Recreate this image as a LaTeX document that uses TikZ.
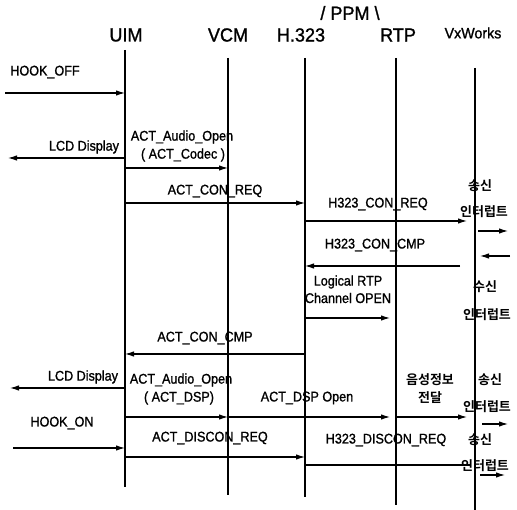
\documentclass[tikz,border=0pt]{standalone}
\usepackage{fontspec}
\setmainfont{Liberation Sans}[FakeStretch=0.9,RawFeature={embolden=1.2}]
\newfontfamily\hdfont{Liberation Sans}[FakeStretch=0.95,RawFeature={embolden=1.2}]
\newfontfamily\kr{Noto Sans CJK KR Bold}
\usetikzlibrary{arrows.meta}

\begin{document}
\begin{tikzpicture}[x=1pt,y=-1pt,
  life/.style={line width=1.4pt},
  msg/.style={line width=1.1pt,-{Latex[length=9pt,width=5.5pt]}},
  lbl/.style={font=\fontsize{14}{15}\selectfont,inner sep=0pt},
  hd/.style={font=\hdfont\fontsize{19}{20}\selectfont,inner sep=0pt},
  ko/.style={font=\kr\fontsize{13}{14}\selectfont,inner sep=0pt}]
  \useasboundingbox (0,0) rectangle (517,510);
  % heads
  \node[hd] (ppm) at (350,13) {/ PPM \textbackslash};
  \node[hd] (uimH) at (126,35) {UIM};
  \node[hd] (vcmH) at (228,35) {VCM};
  \node[hd] (h323H) at (301,35) {H.323};
  \node[hd] (rtpH) at (398,35) {RTP};
  \node[hd,font=\hdfont\fontsize{15}{16}\selectfont] (vxH) at (473,33) {VxWorks};
  % life lines
  \coordinate (uim) at (125,50);  \coordinate (uimB) at (125,487);
  \coordinate (vcm) at (228,58);  \coordinate (vcmB) at (228,495);
  \coordinate (h323) at (305,58); \coordinate (h323B) at (305,497);
  \coordinate (rtp) at (396,58);  \coordinate (rtpB) at (396,505);
  \coordinate (vx) at (475,68);   \coordinate (vxB) at (475,510);
  \foreach \l in {uim,vcm,h323,rtp,vx}
    \draw[life] (\l) -- (\l B);
  % free ends
  \coordinate (hookoff) at (5,93);
  \coordinate (lcdA) at (8,158);
  \coordinate (conreq) at (467,221);
  \coordinate (txA) at (478,231); \coordinate (txA2) at (508,231);
  \coordinate (rxA) at (510,256); \coordinate (rxA2) at (480,256);
  \coordinate (concmp) at (460,266);
  \coordinate (logical) at (390,318);
  \coordinate (lcdB) at (10,388);
  \coordinate (dspopen) at (390,417);
  \coordinate (voice) at (467,417);
  \coordinate (txB) at (482,424); \coordinate (txB2) at (508,424);
  \coordinate (hookon) at (13,448);
  \coordinate (discon) at (470,465);
  \coordinate (txC) at (480,475); \coordinate (txC2) at (505,475);
  % messages
  \draw[msg] (hookoff) -- (uim |- hookoff);
  \draw[msg] (uim |- lcdA) -- (lcdA);
  \draw[msg] (uim |- 0,168) -- (vcm |- 0,168);
  \draw[msg] (uim |- 0,203) -- (h323 |- 0,203);
  \draw[msg] (h323 |- conreq) -- (conreq);
  \draw[msg] (txA) -- (txA2);
  \draw[msg] (rxA) -- (rxA2);
  \draw[msg] (concmp) -- (h323 |- concmp);
  \draw[msg] (h323 |- logical) -- (logical);
  \draw[msg] (h323 |- 0,354) -- (uim |- 0,354);
  \draw[msg] (uim |- lcdB) -- (lcdB);
  \draw[msg] (uim |- dspopen) -- (vcm |- dspopen);
  \draw[msg] (vcm |- dspopen) -- (dspopen);
  \draw[msg] (rtp |- voice) -- (voice);
  \draw[msg] (txB) -- (txB2);
  \draw[msg] (hookon) -- (uim |- hookon);
  \draw[msg] (uim |- 0,457) -- (h323 |- 0,457);
  \draw[line width=1.1pt] (h323 |- discon) -- (discon);
  \draw[msg] (txC) -- (txC2);
  % labels
  \node[lbl] (hookoffL) at (45,72) {HOOK\_OFF};
  \node[lbl] (lcdAL) at (84,147) {LCD Display};
  \node[lbl] (audioA) at (182,137) {ACT\_Audio\_Open};
  \node[lbl] (codec) at (183,155) {( ACT\_Codec )};
  \node[lbl] (conreqL) at (215,191) {ACT\_CON\_REQ};
  \node[lbl] (hconreqL) at (378,204) {H323\_CON\_REQ};
  \node[ko] (txA1) at (480,186) {송신};
  \node[ko] (txA3) at (484,212) {인터럽트};
  \node[lbl] (hconcmpL) at (375,245) {H323\_CON\_CMP};
  \node[lbl] (logicalL) at (348,282) {Logical RTP};
  \node[lbl] (channelL) at (348,298) {Channel OPEN};
  \node[ko] (rx1) at (485,287) {수신};
  \node[ko] (rx2) at (487,315) {인터럽트};
  \node[lbl] (concmpL) at (205,338) {ACT\_CON\_CMP};
  \node[lbl] (lcdBL) at (83,377) {LCD Display};
  \node[lbl] (audioB) at (181,380) {ACT\_Audio\_Open};
  \node[lbl] (dsp) at (179,398) {( ACT\_DSP)};
  \node[lbl] (dspopenL) at (307,398) {ACT\_DSP Open};
  \node[ko] (voice1) at (430,380) {음성정보};
  \node[ko] (voice2) at (430,398) {전달};
  \node[ko] (txB1) at (490,380) {송신};
  \node[ko] (txB3) at (487,407) {인터럽트};
  \node[lbl] (hookonL) at (62,423) {HOOK\_ON};
  \node[lbl] (disconL) at (210,438) {ACT\_DISCON\_REQ};
  \node[lbl] (hdisconL) at (386,440) {H323\_DISCON\_REQ};
  \node[ko] (txC1) at (480,440) {송신};
  \node[ko] (txC3) at (485,466) {인터럽트};
\end{tikzpicture}
\end{document}
